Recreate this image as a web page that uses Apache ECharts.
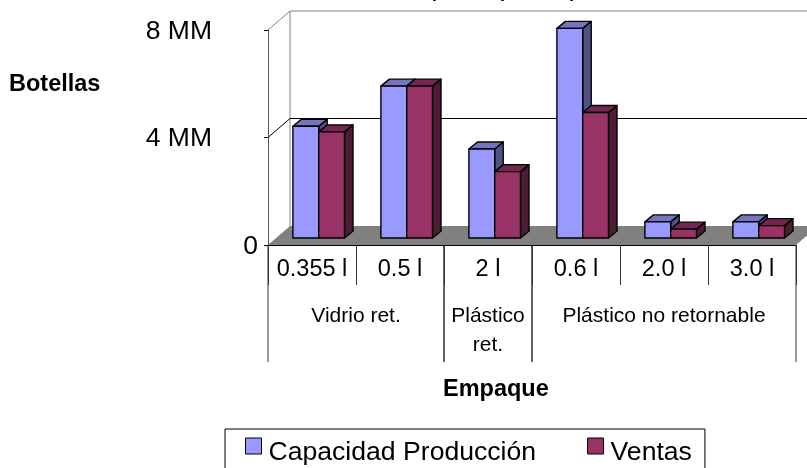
<!DOCTYPE html>
<html>
<head>
<meta charset="utf-8">
<style>
  html, body { margin: 0; padding: 0; background: #fff; overflow: hidden; }
  #chart { width: 807px; height: 468px; }
</style>
<script src="https://cdn.jsdelivr.net/npm/echarts@6/dist/echarts.min.js"></script>
</head>
<body>
<div id="chart"></div>
<script>
// datos (millones de botellas)
const categories = ['0.355 l', '0.5 l', '2 l', '0.6 l', '2.0 l', '3.0 l']
const capacidad = [4.16, 5.65, 3.31, 7.8, 0.6, 0.6]
const ventas = [3.95, 5.65, 2.47, 4.67, 0.33, 0.46]
const yTicks = { 0: '0', 4: '4 MM', 8: '8 MM' }
const groupNames = ['Vidrio ret.', 'Plástico\nret.', 'Plástico no retornable']
const groupStart = [0, 2, 3]
const groupEnd = [1, 2, 5]

const font = 'Liberation Sans'
const wallDx = 22, wallDy = -19   // profundidad de la pared del fondo
const barDx = 8.5, barDy = -7     // profundidad de cada barra
const barW = 25.8

const chart = echarts.init(document.getElementById('chart'))

// pared, piso y lineas del fondo
function renderFrame(params, api) {
  const band = api.size([1, 0])[0]
  const left = api.coord([0, 0])[0] - band / 2
  const right = api.coord([categories.length - 1, 0])[0] + band / 2
  const y0 = api.coord([0, 0])[1]
  const y4 = api.coord([0, 4])[1]
  const y8 = api.coord([0, 8])[1]
  const line = (x1, y1, x2, y2, c) => ({
    type: 'line',
    shape: { x1, y1, x2, y2 },
    style: { stroke: c, lineWidth: 1 },
  })
  return {
    type: 'group',
    children: [
      {
        type: 'polygon',
        shape: { points: [[left, y0], [right, y0], [right + wallDx, y0 + wallDy], [left + wallDx, y0 + wallDy]] },
        style: { fill: '#808080' },
      },
      line(left + wallDx, y0 + wallDy, left + wallDx, y8 + wallDy, '#808080'),
      line(left, y8, left + wallDx, y8 + wallDy, '#808080'),
      line(left + wallDx, y8 + wallDy, right + wallDx, y8 + wallDy, '#808080'),
      line(left, y4, left + wallDx, y4 + wallDy, '#000'),
      line(left + wallDx, y4 + wallDy, right + wallDx, y4 + wallDy, '#000'),
    ],
  }
}

// barra 3D: frente, tapa y costado
function barRenderer(shift, front, top, side) {
  return function (params, api) {
    const base = api.coord([api.value(0), 0])
    const head = api.coord([api.value(0), api.value(1)])
    const x = base[0] + 6.7 + shift
    const yb = base[1] + barDy
    const yt = head[1] + barDy
    const edge = { stroke: '#000', lineWidth: 1.4, lineJoin: 'round' }
    return {
      type: 'group',
      children: [
        {
          type: 'polygon',
          shape: { points: [[x + barW, yt], [x + barW + barDx, yt + barDy], [x + barW + barDx, yb + barDy], [x + barW, yb]] },
          style: { fill: side, ...edge },
        },
        {
          type: 'polygon',
          shape: { points: [[x, yt], [x + barDx, yt + barDy], [x + barW + barDx, yt + barDy], [x + barW, yt]] },
          style: { fill: top, ...edge },
        },
        {
          type: 'rect',
          shape: { x, y: yt, width: barW, height: yb - yt },
          style: { fill: front, ...edge },
        },
      ],
    }
  }
}

// segundo nivel del eje de categorias
function renderGroup(params, api) {
  const band = api.size([1, 0])[0]
  const p0 = api.coord([api.value(0), 0])
  const p1 = api.coord([api.value(2), 0])
  const left = p0[0] - band / 2
  const right = p1[0] + band / 2
  const vline = (x) => ({
    type: 'line',
    shape: { x1: x, y1: p0[1], x2: x, y2: p0[1] + 117 },
    style: { stroke: '#333', lineWidth: 1 },
  })
  return {
    type: 'group',
    children: [
      vline(left),
      vline(right),
      {
        type: 'text',
        style: {
          x: (left + right) / 2,
          y: p0[1] + 57,
          text: groupNames[params.dataIndex],
          fill: '#000',
          font: '21px ' + font,
          align: 'center',
          verticalAlign: 'top',
          lineHeight: 29,
        },
      },
    ],
  }
}

chart.setOption({
  animation: false,
  grid: { left: 268, top: 30, width: 528, height: 215 },
  xAxis: {
    type: 'category',
    data: categories,
    z: 3,
    axisLine: { lineStyle: { color: '#000', width: 1 } },
    axisTick: { show: true, length: 40, lineStyle: { color: '#333' } },
    axisLabel: { interval: 0, margin: 13, color: '#000', fontFamily: font, fontSize: 23.5 },
  },
  yAxis: {
    type: 'value',
    min: 0,
    max: 8,
    interval: 4,
    z: 3,
    splitLine: { show: false },
    axisLine: { show: true, lineStyle: { color: '#555', width: 1 } },
    axisTick: { show: true, length: 4, lineStyle: { color: '#000' } },
    axisLabel: {
      margin: 10,
      color: '#000',
      fontFamily: font,
      fontSize: 26.5,
      formatter: (v) => (v === 0 ? '{near|' + yTicks[v] + '}' : '{far|' + yTicks[v] + '}'),
      rich: {
        far: { fontFamily: font, fontSize: 26.5, color: '#000', padding: [3, 46, 0, 0] },
        near: { fontFamily: font, fontSize: 26.5, color: '#000', padding: [3, 0, 0, 0] },
      },
    },
  },
  legend: {
    left: 225,
    top: 429,
    padding: [8.5, 13, 40, 20],
    borderColor: '#000',
    borderWidth: 1,
    itemWidth: 16,
    itemHeight: 16,
    itemGap: 51,
    selectedMode: false,
    icon: 'rect',
    data: ['Capacidad Producción', 'Ventas'],
    itemStyle: { borderColor: '#000', borderWidth: 1 },
    formatter: (name) => '{t|' + name + '}',
    textStyle: {
      rich: { t: { fontFamily: font, fontSize: 26.6, color: '#000', padding: [14, 0, 0, 2] } },
    },
  },
  graphic: [
    {
      type: 'text',
      x: 430,
      y: -17,
      style: { text: '(unidad por mes)', font: 'bold 18px ' + font, fill: '#000' },
    },
    {
      type: 'text',
      left: 9,
      top: 73,
      style: { text: 'Botellas', font: 'bold 23.5px ' + font, fill: '#000' },
    },
    {
      type: 'text',
      left: 443,
      top: 378,
      style: { text: 'Empaque', font: 'bold 23.5px ' + font, fill: '#000' },
    },
  ],
  series: [
    {
      type: 'custom',
      name: 'frame',
      z: 1,
      silent: true,
      renderItem: renderFrame,
      data: [[0, 0]],
    },
    {
      type: 'custom',
      name: 'Capacidad Producción',
      z: 2,
      itemStyle: { color: '#9999FF' },
      renderItem: barRenderer(-barW, '#9999FF', '#7474BF', '#525285'),
      data: capacidad.map((v, i) => [i, v]),
    },
    {
      type: 'custom',
      name: 'Ventas',
      z: 2,
      itemStyle: { color: '#993366' },
      renderItem: barRenderer(0, '#993366', '#732650', '#4F1C38'),
      data: ventas.map((v, i) => [i, v]),
    },
    {
      type: 'custom',
      name: 'niveles',
      z: 2,
      silent: true,
      renderItem: renderGroup,
      data: groupStart.map((s, i) => [s, 0, groupEnd[i]]),
    },
  ],
})
</script>
</body>
</html>
